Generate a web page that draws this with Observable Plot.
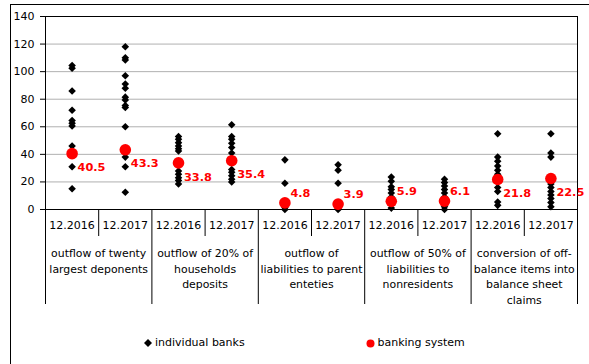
<!DOCTYPE html>
<html>
<head>
<meta charset="utf-8">
<script src="https://cdn.jsdelivr.net/npm/d3@7"></script>
<script src="https://cdn.jsdelivr.net/npm/@observablehq/plot@0.6"></script>
<style>
  body { margin: 0; background: #fff; }
  #wrap { position: relative; width: 589px; height: 364px; overflow: hidden; font-family: "DejaVu Sans", sans-serif; }
  #chart { position: absolute; left: 0; top: 0; }
  #outer { position: absolute; left: 10px; top: 4px; width: 700px; height: 500px; border-left: 1px solid #000; border-top: 1px solid #000; pointer-events: none; }
  .leg { position: absolute; top: 335px; font-size: 11px; line-height: 16px; color: #000; white-space: nowrap; }
  .leg svg { position: absolute; top: 4px; }
</style>
</head>
<body>
<div id="wrap">
  <div id="chart"></div>
  <div id="outer"></div>
  <div class="leg" style="left:144px"><svg width="8" height="8" style="left:0"><path d="M4,0L8,4L4,8L0,4Z" fill="#000"/></svg><span style="margin-left:11px">individual banks</span></div>
  <div class="leg" style="left:366px"><svg width="9" height="9" style="left:0"><circle cx="4.5" cy="4.5" r="4" fill="#ff0000"/></svg><span style="margin-left:11.5px">banking system</span></div>
</div>
<script>
const periods = ["12.2016", "12.2017"];
const scenarios = [
  "outflow of twenty\nlargest deponents",
  "outflow of 20% of\nhouseholds\ndeposits",
  "outflow of\nliabilities to parent\nenteties",
  "outflow of 50% of\nliabilities to\nnonresidents",
  "conversion of off-\nbalance items into\nbalance sheet\nclaims"
];
const bankingSystem = [40.5, 43.3, 33.8, 35.4, 4.8, 3.9, 5.9, 6.1, 21.8, 22.5];
const banks2016_twenty = [104.5, 102.5, 86, 72, 64.5, 62.5, 60.5, 46, 31, 15];
const banks2017_twenty = [118, 110, 108.5, 97, 91, 88, 81.5, 79.5, 75.5, 74, 60, 38, 31, 12.5];
const banks2016_households = [53, 51, 48.5, 46, 44, 42.5, 28, 25.5, 23, 21, 18.5];
const banks2017_households = [61.5, 53, 51, 48, 45, 41, 29, 27, 24.5, 22, 20];
const banks2016_parent = [36, 19, 3, 1.5, 0];
const banks2017_parent = [32.5, 28.5, 19, 2, 0];
const banks2016_nonres = [23.5, 20.5, 16.5, 14.5, 12, 9, 4, 1];
const banks2017_nonres = [22, 19.5, 17, 14.5, 12, 9, 2, 0];
const banks2016_offbal = [55, 38, 35, 31.5, 28.5, 25.5, 20.5, 16, 13, 5.5, 3];
const banks2017_offbal = [55, 41, 38, 18.5, 16, 13, 10.5, 8, 5, 2];
const yTicks = [0, 20, 40, 60, 80, 100, 120, 140];

const individualBanks = [
  banks2016_twenty, banks2017_twenty,
  banks2016_households, banks2017_households,
  banks2016_parent, banks2017_parent,
  banks2016_nonres, banks2017_nonres,
  banks2016_offbal, banks2017_offbal
];

const bankPoints = individualBanks.flatMap((vals, col) => vals.map(v => ({col, value: v})));
const systemPoints = bankingSystem.map((v, col) => ({col, value: v}));
const cols = bankingSystem.map((_, i) => i);
const groupCenters = scenarios.map((s, g) => ({x: g * 2 + 0.5, label: s}));
const innerSeps = scenarios.map((_, g) => g * 2 + 0.5);
const outerSeps = d3.range(scenarios.length + 1).map(g => g * 2 - 0.5);

const chart = Plot.plot({
  width: 589,
  height: 320,
  marginLeft: 45,
  marginRight: 12,
  marginTop: 16,
  marginBottom: 111,
  style: {fontFamily: "DejaVu Sans", fontSize: "11px", background: "transparent", overflow: "visible", color: "#000"},
  x: {domain: [-0.5, cols.length - 0.5], axis: null},
  y: {domain: [0, 140], axis: null},
  marks: [
    Plot.ruleY(yTicks.filter(t => t > 0 && t < 140), {stroke: "#b0b0b0", strokeWidth: 1}),
    Plot.frame({stroke: "#000"}),
    Plot.axisY({ticks: yTicks, tickSize: 5, tickPadding: 6, fontSize: 11, label: null, tickFormat: d => String(d)}),
    Plot.axisX({ticks: cols, tickSize: 0, tickPadding: 12, label: null, tickFormat: i => periods[i % 2], fontSize: 11}),
    Plot.axisX({ticks: innerSeps, tickSize: 27, label: null, tickFormat: () => ""}),
    Plot.axisX({ticks: outerSeps, tickSize: 95, label: null, tickFormat: () => ""}),
    Plot.text(groupCenters, {x: "x", text: "label", frameAnchor: "bottom", lineAnchor: "top", dy: 37, lineHeight: 1.42, fontSize: 10.9, fill: "#000"}),
    Plot.dot(bankPoints, {x: "col", y: "value", symbol: "diamond2", r: 3.4, fill: "#000", stroke: "none"}),
    Plot.dot(systemPoints, {x: "col", y: "value", r: 5.8, fill: "#ff0000", stroke: "none"}),
    Plot.text(systemPoints, {filter: d => d.value >= 10, x: "col", y: "value", text: d => d.value.toFixed(1), dx: 5.5, dy: 14, textAnchor: "start", fill: "#ff0000", fontWeight: "bold", fontSize: 11.3}),
    Plot.text(systemPoints, {filter: d => d.value < 10, x: "col", y: "value", text: d => d.value.toFixed(1), dx: 5.5, dy: -9.5, textAnchor: "start", fill: "#ff0000", fontWeight: "bold", fontSize: 11.3})
  ]
});
document.getElementById("chart").appendChild(chart);
</script>
</body>
</html>
